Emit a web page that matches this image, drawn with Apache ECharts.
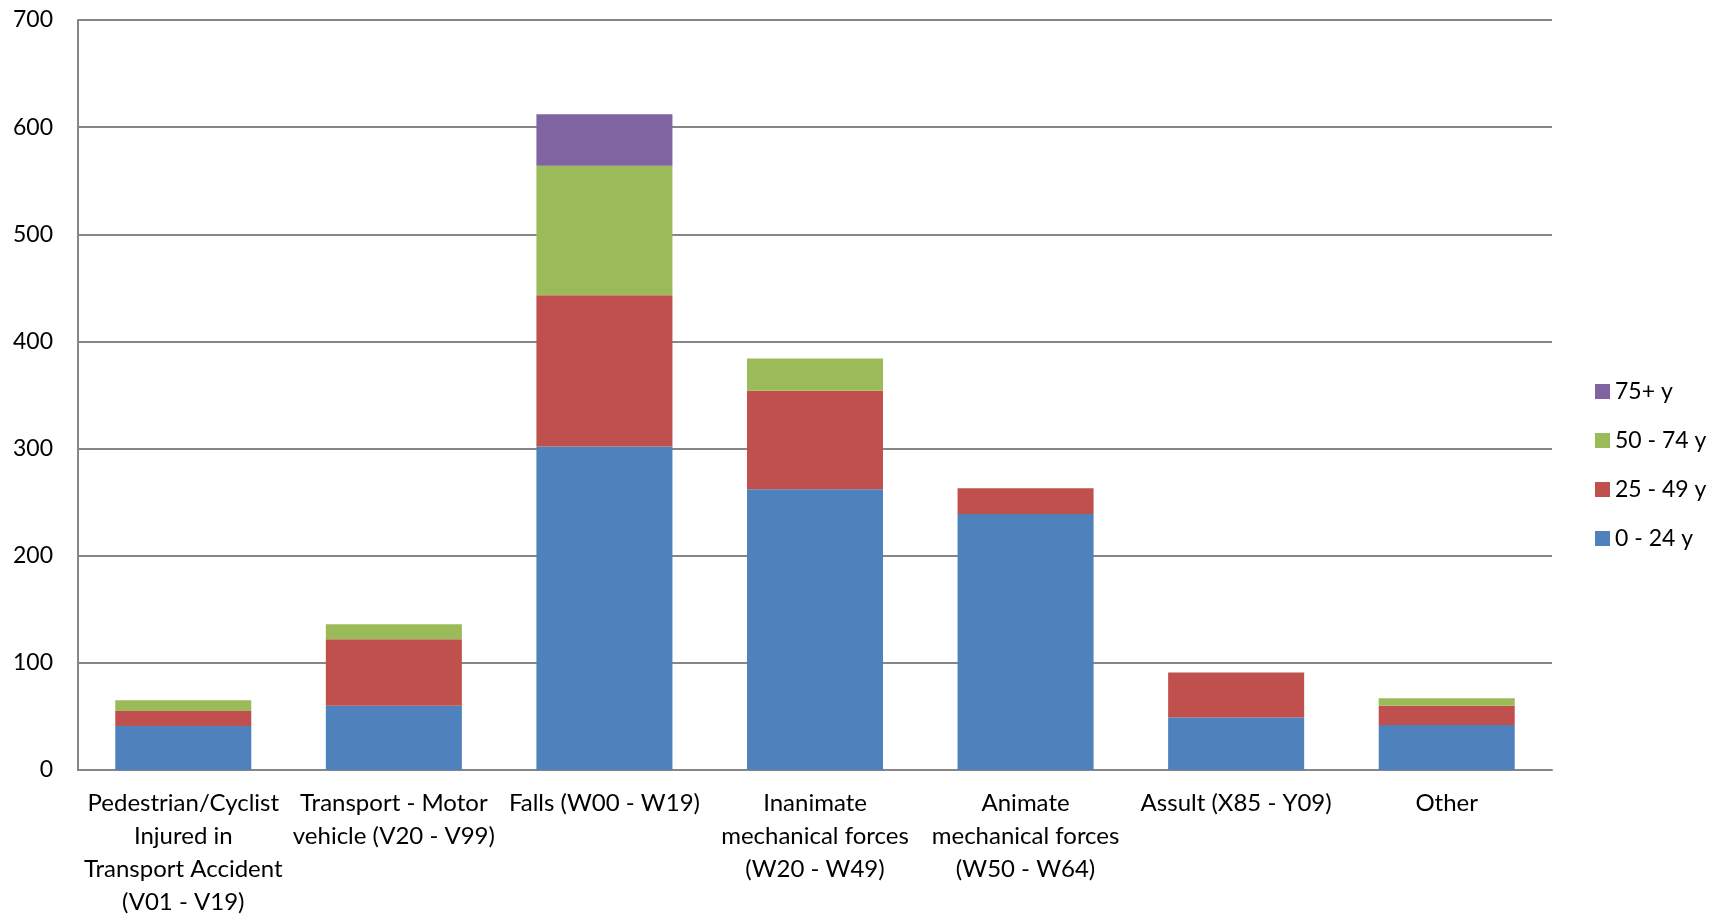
<!DOCTYPE html>
<html>
<head>
<meta charset="utf-8">
<script src="https://cdn.jsdelivr.net/npm/echarts@6/dist/echarts.min.js"></script>
<style>
html,body{margin:0;padding:0;background:#fff;}
#chart{width:1719px;height:919px;}
</style>
</head>
<body>
<div id="chart"></div>
<script>
const categories = [
  "Pedestrian/Cyclist\nInjured in\nTransport Accident\n(V01 - V19)",
  "Transport - Motor\nvehicle (V20 - V99)",
  "Falls (W00 - W19)",
  "Inanimate\nmechanical forces\n(W20 - W49)",
  "Animate\nmechanical forces\n(W50 - W64)",
  "Assult (X85 - Y09)",
  "Other"
];
const seriesNames = ["0 - 24 y", "25 - 49 y", "50 - 74 y", "75+ y"];
const age0_24  = [41, 60, 302, 262, 239, 49, 42];
const age25_49 = [14, 62, 141, 92, 24, 42, 18];
const age50_74 = [10, 14, 121, 30, 0, 0, 7];
const age75p   = [0, 0, 48, 0, 0, 0, 0];
const yTicks = { min: 0, max: 700, interval: 100 };

const colors = ["#4F81BD", "#C0504D", "#9BBB59", "#8064A2"];
const values = [age0_24, age25_49, age50_74, age75p];
const FONT = "Lato, 'Open Sans', sans-serif";

const chart = echarts.init(document.getElementById('chart'));
chart.setOption({
  animation: false,
  textStyle: { fontFamily: FONT },
  grid: { left: 78, right: 167, top: 20, bottom: 134, containLabel: false },
  legend: {
    orient: 'vertical',
    left: 1590,
    top: 375,
    itemWidth: 15,
    itemHeight: 15,
    itemGap: 26,
    icon: 'rect',
    data: seriesNames.slice().reverse(),
    textStyle: { fontSize: 23, color: '#000', fontFamily: FONT }
  },
  xAxis: {
    type: 'category',
    data: categories,
    axisLine: { lineStyle: { color: '#868686', width: 2 } },
    axisTick: { show: false },
    axisLabel: { interval: 0, fontSize: 24, color: '#000', lineHeight: 33, margin: 17, fontFamily: FONT }
  },
  yAxis: {
    type: 'value',
    min: yTicks.min, max: yTicks.max, interval: yTicks.interval,
    axisLine: { show: true, lineStyle: { color: '#868686', width: 2 } },
    axisTick: { show: false },
    splitLine: { lineStyle: { color: '#868686', width: 2 } },
    axisLabel: { fontSize: 23, color: '#000', margin: 25, fontFamily: FONT }
  },
  series: seriesNames.map((n, i) => ({
    name: n,
    type: 'bar',
    stack: 'total',
    data: values[i],
    barWidth: '64.6%',
    itemStyle: { color: colors[i] }
  }))
});
</script>
</body>
</html>
